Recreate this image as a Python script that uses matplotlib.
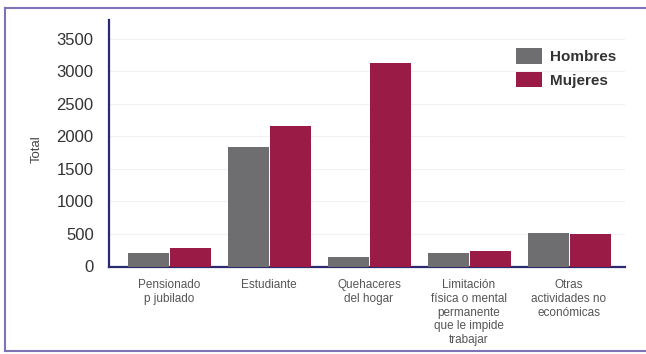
import matplotlib
matplotlib.use("Agg")
import matplotlib.pyplot as plt
from matplotlib.lines import Line2D
import numpy as np

categories = ["Pensionado\np jubilado", "Estudiante", "Quehaceres\ndel hogar",
              "Limitación\nfísica o mental\npermanente\nque le impide\ntrabajar",
              "Otras\nactividades no\neconómicas"]
hombres = [212, 1843, 142, 212, 511]
mujeres = [289, 2162, 3135, 243, 495]
yticks = [0, 500, 1000, 1500, 2000, 2500, 3000, 3500]
series_names = ["Hombres", "Mujeres"]

plt.rcParams['font.family'] = ['Liberation Sans', 'DejaVu Sans']

W, H = 646, 354
fig = plt.figure(figsize=(W / 100, H / 100), dpi=100)
fig.patch.set_facecolor("white")

# outer frame (open on the right side): top, left, bottom edges
x0, x1 = 5 / W, 1.0
y0, y1 = 1 - 351 / H, 1 - 8 / H
for xs, ys in [([x0, x1], [y1, y1]), ([x0, x0], [y0, y1]), ([x0, x1], [y0, y0])]:
    fig.add_artist(Line2D(xs, ys, transform=fig.transFigure,
                          color="#7c74b4", linewidth=1.5))

left, right = 109 / W, 625 / W
bottom, top = 1 - 266.5 / H, 1 - 20 / H
ax = fig.add_axes([left, bottom, right - left, top - bottom])

x = np.arange(len(categories))
w = 0.41
gray = "#6e6e70"
red = "#9a1b45"
ax.bar(x - 0.21, hombres, width=w, color=gray, label=series_names[0], zorder=3)
ax.bar(x + 0.21, mujeres, width=w, color=red, label=series_names[1], zorder=3)

ax.set_xlim(-0.6, 4.56)
ax.set_ylim(0, 3792)
ax.set_yticks(yticks)
ax.set_yticklabels([str(v) for v in yticks], fontsize=12, color="#333333")
ax.set_xticks(x)
ax.set_xticklabels(categories, fontsize=8.5, color="#555555", linespacing=1.2)
ax.tick_params(axis="y", length=0, pad=11)
ax.tick_params(axis="x", length=0, pad=9)

fig.text(37 / W, 1 - 149 / H, "Total", rotation=90, fontsize=9.5,
         color="#444444", ha="center", va="center")

for s in ["top", "right"]:
    ax.spines[s].set_visible(False)
for s in ["left", "bottom"]:
    ax.spines[s].set_color("#2b2a70")
    ax.spines[s].set_linewidth(1.6)

ax.yaxis.grid(True, color="#f1f1f1", linewidth=0.8, zorder=0)
ax.set_axisbelow(True)

leg = ax.legend(loc="upper left", bbox_to_anchor=(516 / W, 1 - 48 / H),
                bbox_transform=fig.transFigure, frameon=False,
                prop={"weight": "bold", "size": 11},
                handlelength=1.7, handleheight=1.2, handletextpad=0.55,
                labelspacing=0.5, borderpad=0, borderaxespad=0)
for t in leg.get_texts():
    t.set_color("#333333")

fig.savefig("out.png", dpi=100)
